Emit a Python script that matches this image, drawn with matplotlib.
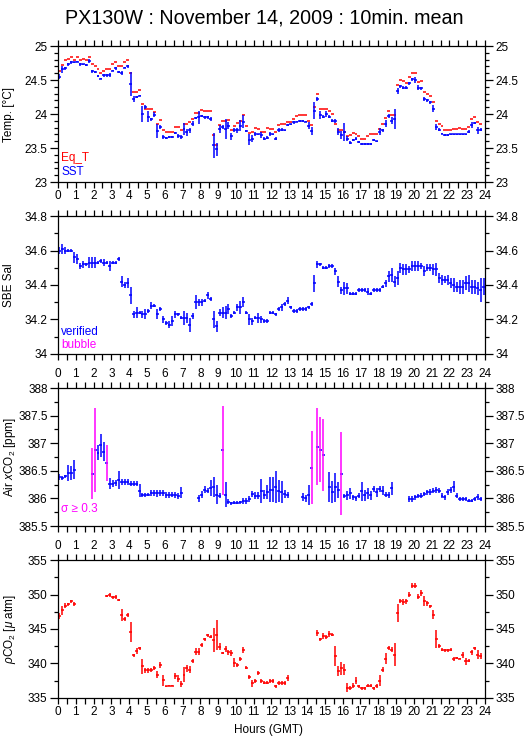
import numpy as np
import matplotlib
matplotlib.use('Agg')
import matplotlib.pyplot as plt
from matplotlib.ticker import MultipleLocator

plt.rcParams['font.family'] = ['Liberation Sans', 'DejaVu Sans']
plt.rcParams['mathtext.fontset'] = 'custom'
plt.rcParams['mathtext.rm'] = 'Liberation Sans'
plt.rcParams['mathtext.it'] = 'Liberation Sans:italic'

nan = np.nan

# 10-minute bins, 144 per day
hours = np.arange(144) / 6 + 1 / 12

sst = [24.55, 24.66, 24.67, 24.73, 24.76, 24.76, 24.77, 24.73, 24.73, 24.72, 24.78, 24.63,
       24.62, 24.56, 24.52, 24.57, 24.57, 24.57, 24.64, 24.67, 24.62, 24.61, 24.68, 24.70,
       24.44, 24.22, 24.25, 24.27, 24.00, 24.10, 23.96, 23.92, 23.99, 23.75, 23.81, 23.66,
       23.65, 23.66, 23.66, 23.72, 23.68, 23.66, 23.78, 23.73, 23.76, 23.86, 23.94, 23.95,
       23.97, 23.95, 23.95, 23.93, 23.54, 23.48, 23.78, 23.81, 23.78, 23.83, 23.67, 23.76,
       23.76, 23.83, 23.89, 23.75, 23.62, 23.64, 23.70, 23.70, 23.69, 23.64, 23.65, 23.70,
       23.70, 23.64, 23.77, 23.77, 23.76, 23.84, 23.85, 23.88, 23.89, 23.90, 23.90, 23.89,
       23.83, 23.75, 24.05, 24.22, 23.98, 23.96, 24.00, 23.96, 23.90, 23.90, 23.74, 23.69,
       23.74, 23.64, 23.58, 23.62, 23.64, 23.59, 23.56, 23.56, 23.56, 23.56, 23.62, 23.60,
       23.74, 23.76, 23.86, 23.97, 23.90, 23.93, 24.34, 24.41, 24.39, 24.39, 24.45, 24.51,
       24.50, 24.39, 24.38, 24.22, 24.20, 24.17, 24.08, 23.81, 23.77, 23.71, 23.69, 23.69,
       23.70, 23.70, 23.70, 23.70, 23.70, 23.70, 23.74, 23.84, 23.87, 23.76, 23.77, nan]
sst_err = [0.04, 0.05, 0.02, 0.02, 0.02, 0.01, 0.01, 0.02, 0.01, 0.01, 0.03, 0.02,
           0.02, 0.01, 0.01, 0.02, 0.02, 0.03, 0.01, 0.02, 0.02, 0.03, 0.01, 0.02,
           0.18, 0.04, 0.02, 0.01, 0.12, 0.03, 0.08, 0.02, 0.04, 0.10, 0.03, 0.03,
           0.01, 0.01, 0.01, 0.02, 0.03, 0.03, 0.09, 0.05, 0.04, 0.04, 0.02, 0.10,
           0.01, 0.02, 0.02, 0.03, 0.18, 0.10, 0.06, 0.03, 0.14, 0.05, 0.05, 0.03,
           0.04, 0.08, 0.10, 0.02, 0.08, 0.05, 0.03, 0.01, 0.04, 0.02, 0.02, 0.03,
           0.01, 0.02, 0.03, 0.02, 0.01, 0.02, 0.01, 0.02, 0.01, 0.01, 0.01, 0.01,
           0.05, 0.06, 0.12, 0.03, 0.06, 0.02, 0.04, 0.02, 0.02, 0.03, 0.05, 0.06,
           0.13, 0.04, 0.02, 0.02, 0.02, 0.02, 0.01, 0.01, 0.01, 0.01, 0.02, 0.01,
           0.05, 0.02, 0.05, 0.03, 0.05, 0.15, 0.05, 0.02, 0.02, 0.02, 0.02, 0.02,
           0.05, 0.03, 0.02, 0.03, 0.02, 0.02, 0.05, 0.05, 0.02, 0.01, 0.01, 0.01,
           0.01, 0.01, 0.01, 0.01, 0.01, 0.01, 0.02, 0.04, 0.02, 0.05, 0.02, nan]
eq_t = [24.63, 24.72, 24.80, 24.81, 24.84, 24.80, 24.84, 24.80, 24.81, 24.80, 24.84, 24.73,
        24.70, 24.66, 24.61, 24.63, 24.66, 24.66, 24.73, 24.77, 24.71, 24.70, 24.77, 24.79,
        24.60, 24.32, 24.33, 24.36, 24.15, 24.08, 24.08, 24.08, 24.03, 23.86, 23.91, 23.77,
        23.73, 23.74, 23.73, 23.81, 23.81, 23.76, 23.86, 23.85, 23.89, 23.93, 24.02, 24.02,
        24.06, 24.04, 24.04, 24.04, 23.69, 23.55, 23.84, 23.90, 23.90, 23.91, 23.76, 23.83,
        23.87, 23.90, 23.98, 23.82, 23.72, 23.73, 23.80, 23.78, 23.74, 23.74, 23.79, 23.78,
        23.78, 23.74, 23.84, 23.86, 23.86, 23.89, 23.89, 23.92, 23.97, 23.99, 23.99, 23.99,
        23.90, 23.84, 24.11, 24.29, 24.07, 24.07, 24.07, 24.04, 24.00, 23.86, 23.77, 23.77,
        23.74, 23.67, 23.69, 23.72, 23.70, 23.67, 23.64, 23.64, 23.67, 23.70, 23.70, 23.70,
        23.78, 23.86, 23.94, 24.04, 23.99, 23.99, 24.42, 24.50, 24.49, 24.46, 24.54, 24.60,
        24.61, 24.47, 24.49, 24.32, 24.29, 24.26, 24.17, 23.90, 23.86, 23.82, 23.77, 23.77,
        23.77, 23.78, 23.78, 23.79, 23.78, 23.78, 23.81, 23.92, 23.96, 23.89, 23.86, nan]

sal = [34.60, 34.61, 34.60, 34.60, 34.60, 34.56, 34.55, 34.51, 34.52, 34.52, 34.53, 34.53,
       34.53, 34.53, 34.54, 34.53, 34.53, 34.51, 34.53, 34.53, 34.55, 34.42, 34.40, 34.41,
       34.34, 34.23, 34.24, 34.24, 34.23, 34.23, 34.25, 34.28, 34.28, 34.23, 34.26, 34.20,
       34.18, 34.17, 34.19, 34.23, 34.23, 34.21, 34.21, 34.21, 34.17, 34.22, 34.30, 34.30,
       34.30, 34.31, 34.34, 34.32, 34.20, 34.16, 34.24, 34.24, 34.24, 34.26, 34.22, 34.24,
       34.27, 34.27, 34.30, 34.24, 34.20, 34.19, 34.21, 34.21, 34.20, 34.19, 34.19, 34.24,
       34.24, 34.23, 34.26, 34.27, 34.29, 34.31, 34.27, 34.25, 34.25, 34.26, 34.26, 34.26,
       34.27, 34.29, 34.41, 34.52, 34.52, 34.50, 34.50, 34.51, 34.51, 34.48, 34.42, 34.37,
       34.38, 34.38, 34.35, 34.35, 34.35, 34.37, 34.37, 34.37, 34.36, 34.35, 34.37, 34.37,
       34.37, 34.39, 34.41, 34.45, 34.46, 34.42, 34.44, 34.50, 34.49, 34.49, 34.49, 34.51,
       34.51, 34.51, 34.51, 34.48, 34.50, 34.50, 34.49, 34.49, 34.44, 34.43, 34.43, 34.43,
       34.41, 34.40, 34.39, 34.39, 34.39, 34.41, 34.41, 34.39, 34.39, 34.38, 34.37, 34.39]
sal_err = [0.02, 0.03, 0.02, 0.01, 0.01, 0.03, 0.03, 0.02, 0.02, 0.01, 0.03, 0.03,
           0.03, 0.01, 0.01, 0.02, 0.01, 0.03, 0.01, 0.01, 0.01, 0.03, 0.02, 0.03,
           0.05, 0.02, 0.03, 0.01, 0.02, 0.03, 0.01, 0.02, 0.01, 0.03, 0.01, 0.02,
           0.01, 0.02, 0.03, 0.02, 0.01, 0.01, 0.04, 0.03, 0.04, 0.02, 0.04, 0.02,
           0.02, 0.01, 0.02, 0.01, 0.05, 0.03, 0.02, 0.03, 0.04, 0.03, 0.01, 0.01,
           0.02, 0.04, 0.03, 0.01, 0.03, 0.02, 0.01, 0.03, 0.02, 0.01, 0.01, 0.01,
           0.01, 0.01, 0.01, 0.02, 0.01, 0.02, 0.01, 0.01, 0.01, 0.01, 0.01, 0.01,
           0.01, 0.01, 0.05, 0.02, 0.01, 0.01, 0.01, 0.01, 0.01, 0.02, 0.03, 0.02,
           0.04, 0.03, 0.01, 0.01, 0.01, 0.01, 0.01, 0.01, 0.02, 0.01, 0.01, 0.01,
           0.01, 0.01, 0.02, 0.03, 0.04, 0.03, 0.04, 0.03, 0.03, 0.03, 0.02, 0.03,
           0.03, 0.03, 0.02, 0.03, 0.02, 0.02, 0.03, 0.04, 0.03, 0.03, 0.02, 0.03,
           0.03, 0.04, 0.03, 0.04, 0.04, 0.04, 0.05, 0.04, 0.04, 0.04, 0.07, 0.05]

xco2 = [386.39, 386.37, 386.40, 386.46, 386.46, 386.52, nan, nan, nan, nan, nan, 386.45,
        386.87, 386.83, 386.96, 386.85, 386.64, 386.27, 386.27, 386.28, 386.33, 386.30, 386.30, 386.30,
        386.27, 386.27, 386.27, 386.14, 386.06, 386.06, 386.07, 386.10, 386.10, 386.09, 386.10, 386.10,
        386.06, 386.06, 386.07, 386.06, 386.04, 386.10, nan, nan, nan, nan, nan, 386.00,
        386.07, 386.16, 386.14, 386.19, 386.20, 386.07, 386.05, 386.87, 386.07, 385.94, 385.91, 385.92,
        385.92, 385.93, 385.95, 385.95, 385.99, 386.08, 386.05, 386.05, 386.13, 386.07, 386.12, 386.16,
        386.16, 386.21, 386.13, 386.11, 386.08, 386.06, nan, nan, nan, nan, 386.02, 386.00,
        386.06, 386.56, nan, 386.94, 386.88, 386.79, nan, 386.20, 386.11, 386.20, 386.15, 386.45,
        386.04, 386.06, 386.09, 386.02, 386.00, 386.05, 386.13, 386.06, 386.09, 386.06, 386.17, 386.11,
        386.17, 386.14, 386.07, 386.06, 386.18, nan, nan, nan, nan, nan, 385.99, 385.99,
        386.02, 386.04, 386.05, 386.08, 386.11, 386.12, 386.14, 386.15, 386.14, 386.05, 386.02, 386.12,
        386.15, 386.21, 386.05, 385.99, 385.99, 385.99, 385.96, 385.96, 385.99, 386.03, 385.99, nan]
xco2_err = [0.06, 0.04, 0.03, 0.15, 0.12, 0.17, nan, nan, nan, nan, nan, 0.46,
            0.76, 0.14, 0.21, 0.17, 0.33, 0.10, 0.06, 0.06, 0.16, 0.06, 0.05, 0.05,
            0.05, 0.05, 0.05, 0.12, 0.03, 0.03, 0.03, 0.06, 0.06, 0.06, 0.06, 0.05,
            0.05, 0.05, 0.05, 0.05, 0.05, 0.10, nan, nan, nan, nan, nan, 0.06,
            0.06, 0.07, 0.05, 0.14, 0.18, 0.18, 0.05, 0.80, 0.22, 0.05, 0.03, 0.03,
            0.03, 0.03, 0.05, 0.05, 0.06, 0.05, 0.06, 0.06, 0.22, 0.08, 0.13, 0.22,
            0.22, 0.29, 0.20, 0.20, 0.08, 0.05, nan, nan, nan, nan, 0.07, 0.07,
            0.18, 0.67, nan, 0.69, 0.59, 0.65, nan, 0.27, 0.20, 0.26, 0.15, 0.75,
            0.04, 0.08, 0.10, 0.05, 0.05, 0.05, 0.17, 0.10, 0.10, 0.08, 0.06, 0.08,
            0.06, 0.08, 0.05, 0.05, 0.11, nan, nan, nan, nan, nan, 0.05, 0.06,
            0.04, 0.04, 0.04, 0.04, 0.05, 0.05, 0.05, 0.05, 0.04, 0.04, 0.04, 0.05,
            0.05, 0.10, 0.05, 0.04, 0.03, 0.03, 0.03, 0.03, 0.03, 0.05, 0.03, nan]

pco2 = [346.9, 347.7, 348.4, 348.6, 349.0, 348.6, nan, nan, nan, nan, nan, nan,
        nan, nan, nan, nan, 349.8, 349.9, 349.6, 349.6, 349.2, 347.0, 346.4, 347.0,
        344.5, 341.2, 341.8, 342.2, 339.6, 339.0, 339.0, 339.0, 339.3, 338.4, 339.8, 337.6,
        336.7, 336.8, 336.8, 338.2, 337.8, 337.0, 338.4, 339.3, 339.1, 340.4, 341.7, 341.7,
        342.7, 343.5, 344.1, 343.9, 343.4, 344.1, 342.4, 341.5, 342.1, 341.6, 341.5, 340.1,
        339.8, 340.6, 341.9, 339.4, 338.1, 337.1, 337.4, 338.6, 337.5, 337.2, 337.2, 337.4,
        337.4, 336.7, 337.2, 337.2, 337.2, 337.9, nan, nan, nan, nan, nan, nan,
        nan, nan, nan, 344.4, 343.5, 344.0, 343.8, 344.3, 344.2, 341.1, 338.9, 339.3,
        339.1, 336.5, 336.4, 336.8, 337.5, 336.7, 336.4, 336.4, 336.8, 336.8, 336.4, 336.7,
        337.5, 339.1, 340.7, 342.2, 342.0, 341.3, 347.3, 349.1, 348.9, 349.0, 350.0, 351.3,
        351.3, 349.7, 350.2, 349.1, 348.7, 348.3, 347.1, 343.6, 342.5, 342.0, 341.9, 341.9,
        342.0, 340.6, 340.8, 340.7, 341.2, 340.3, 340.4, 341.6, 342.2, 341.3, 341.1, nan]
pco2_err = [0.4, 0.65, 0.3, 0.2, 0.2, 0.3, nan, nan, nan, nan, nan, nan,
            nan, nan, nan, nan, 0.1, 0.3, 0.2, 0.3, 0.2, 0.85, 0.3, 0.3,
            1.45, 0.2, 0.4, 0.2, 1.1, 0.4, 0.4, 0.3, 0.3, 0.5, 0.4, 0.8,
            0.1, 0.1, 0.1, 0.4, 0.5, 0.4, 1.1, 0.5, 0.5, 0.3, 0.5, 0.5,
            0.3, 0.2, 0.2, 0.2, 1.8, 2.2, 0.5, 0.1, 0.4, 0.3, 0.4, 0.65,
            0.3, 0.3, 0.45, 0.2, 0.3, 0.5, 0.3, 0.3, 0.3, 0.2, 0.2, 0.3,
            0.3, 0.2, 0.3, 0.3, 0.3, 0.4, nan, nan, nan, nan, nan, nan,
            nan, nan, nan, 0.4, 0.2, 0.4, 0.3, 0.4, 0.2, 1.4, 0.7, 0.9,
            0.8, 0.7, 0.3, 0.4, 0.5, 0.2, 0.2, 0.2, 0.2, 0.2, 0.2, 0.3,
            0.8, 0.4, 0.8, 0.3, 0.4, 1.6, 1.3, 0.3, 0.4, 0.4, 0.4, 0.4,
            0.4, 0.4, 0.4, 0.7, 0.3, 0.2, 0.7, 1.3, 0.3, 0.2, 0.2, 0.2,
            0.2, 0.3, 0.1, 0.1, 0.4, 0.5, 0.2, 0.3, 0.2, 0.6, 0.4, nan]

BLUE = '#0000ff'
RED = '#ff0000'
MAG = '#ff00ff'
half = 1 / 12
lw = 1.1


def bars(ax, y, err, hcolor, vcolors):
    y = np.asarray(y, float)
    ax.hlines(y, hours - half, hours + half, colors=hcolor, lw=lw)
    if err is not None:
        err = np.asarray(err, float)
        ax.vlines(hours, y - err, y + err, colors=vcolors, lw=lw)


def style(ax, ylim, major, minor, ylabel, labx, toplabels=False, botlabels=False):
    ax.set_xlim(0, 24)
    ax.set_ylim(*ylim)
    ax.xaxis.set_major_locator(MultipleLocator(1))
    ax.xaxis.set_minor_locator(MultipleLocator(0.5))
    ax.yaxis.set_major_locator(MultipleLocator(major))
    ax.yaxis.set_minor_locator(MultipleLocator(minor))
    ax.tick_params(axis='x', which='both', direction='out', top=True, bottom=True,
                   length=4, width=0.9, labelsize=8.5, pad=2,
                   labeltop=toplabels, labelbottom=botlabels)
    ax.tick_params(axis='y', which='major', direction='out', left=True, right=True,
                   length=5.5, width=0.9, labelsize=8.5, pad=2,
                   labelleft=True, labelright=True)
    ax.tick_params(axis='y', which='minor', direction='out', left=True, right=True,
                   length=2.8, width=0.9)
    for s in ax.spines.values():
        s.set_linewidth(0.9)
    ax.set_ylabel(ylabel, fontsize=8.5)
    ax.yaxis.set_label_coords(labx, 0.5)
    ax.yaxis.set_major_formatter(plt.FuncFormatter(
        lambda v, p: ('%.2f' % v).rstrip('0').rstrip('.')))


fig = plt.figure(figsize=(5.29, 7.39), dpi=100)
left, width = 0.1096, 0.8072
ax1 = fig.add_axes([left, 0.7537, width, 0.1840])
ax2 = fig.add_axes([left, 0.5210, width, 0.1867])
ax3 = fig.add_axes([left, 0.2882, width, 0.1867])
ax4 = fig.add_axes([left, 0.0555, width, 0.1867])

# Temperature
bars(ax1, eq_t, None, RED, RED)
bars(ax1, sst, sst_err, BLUE, BLUE)
style(ax1, (23, 25), 0.5, 0.1, 'Temp. [°C]', -0.1, botlabels=True)
ax1.text(0.008, 0.155, 'Eq_T', color=RED, fontsize=8.5, transform=ax1.transAxes)
ax1.text(0.008, 0.055, 'SST', color=BLUE, fontsize=8.5, transform=ax1.transAxes)

# Salinity
bars(ax2, sal, sal_err, BLUE, BLUE)
style(ax2, (34, 34.8), 0.2, 0.1, 'SBE Sal', -0.1)
ax2.text(0.008, 0.14, 'verified', color=BLUE, fontsize=8.5, transform=ax2.transAxes)
ax2.text(0.008, 0.045, 'bubble', color=MAG, fontsize=8.5, transform=ax2.transAxes)

# Air xCO2
xerr_arr = np.asarray(xco2_err, float)
vcol = [MAG if e >= 0.3 else BLUE for e in np.nan_to_num(xerr_arr)]
bars(ax3, xco2, xco2_err, BLUE, vcol)
style(ax3, (385.5, 388), 0.5, 0.25, 'Air $x$CO$_2$ [ppm]', -0.094, toplabels=True)
ax3.text(0.008, 0.1, 'σ ≥ 0.3', color=MAG, fontsize=8.5, transform=ax3.transAxes)

# pCO2
bars(ax4, pco2, pco2_err, RED, RED)
style(ax4, (335, 355), 5, 2.5, r'$\rho$CO$_2$ [$\mu$ atm]', -0.094,
      toplabels=True, botlabels=True)

fig.text(0.5, 0.976, 'PX130W : November 14, 2009 : 10min. mean', ha='center', va='center',
         fontsize=14.2)
fig.text(0.508, 0.012, 'Hours (GMT)', ha='center', va='center', fontsize=8.5)

fig.savefig('out.png', dpi=100)
